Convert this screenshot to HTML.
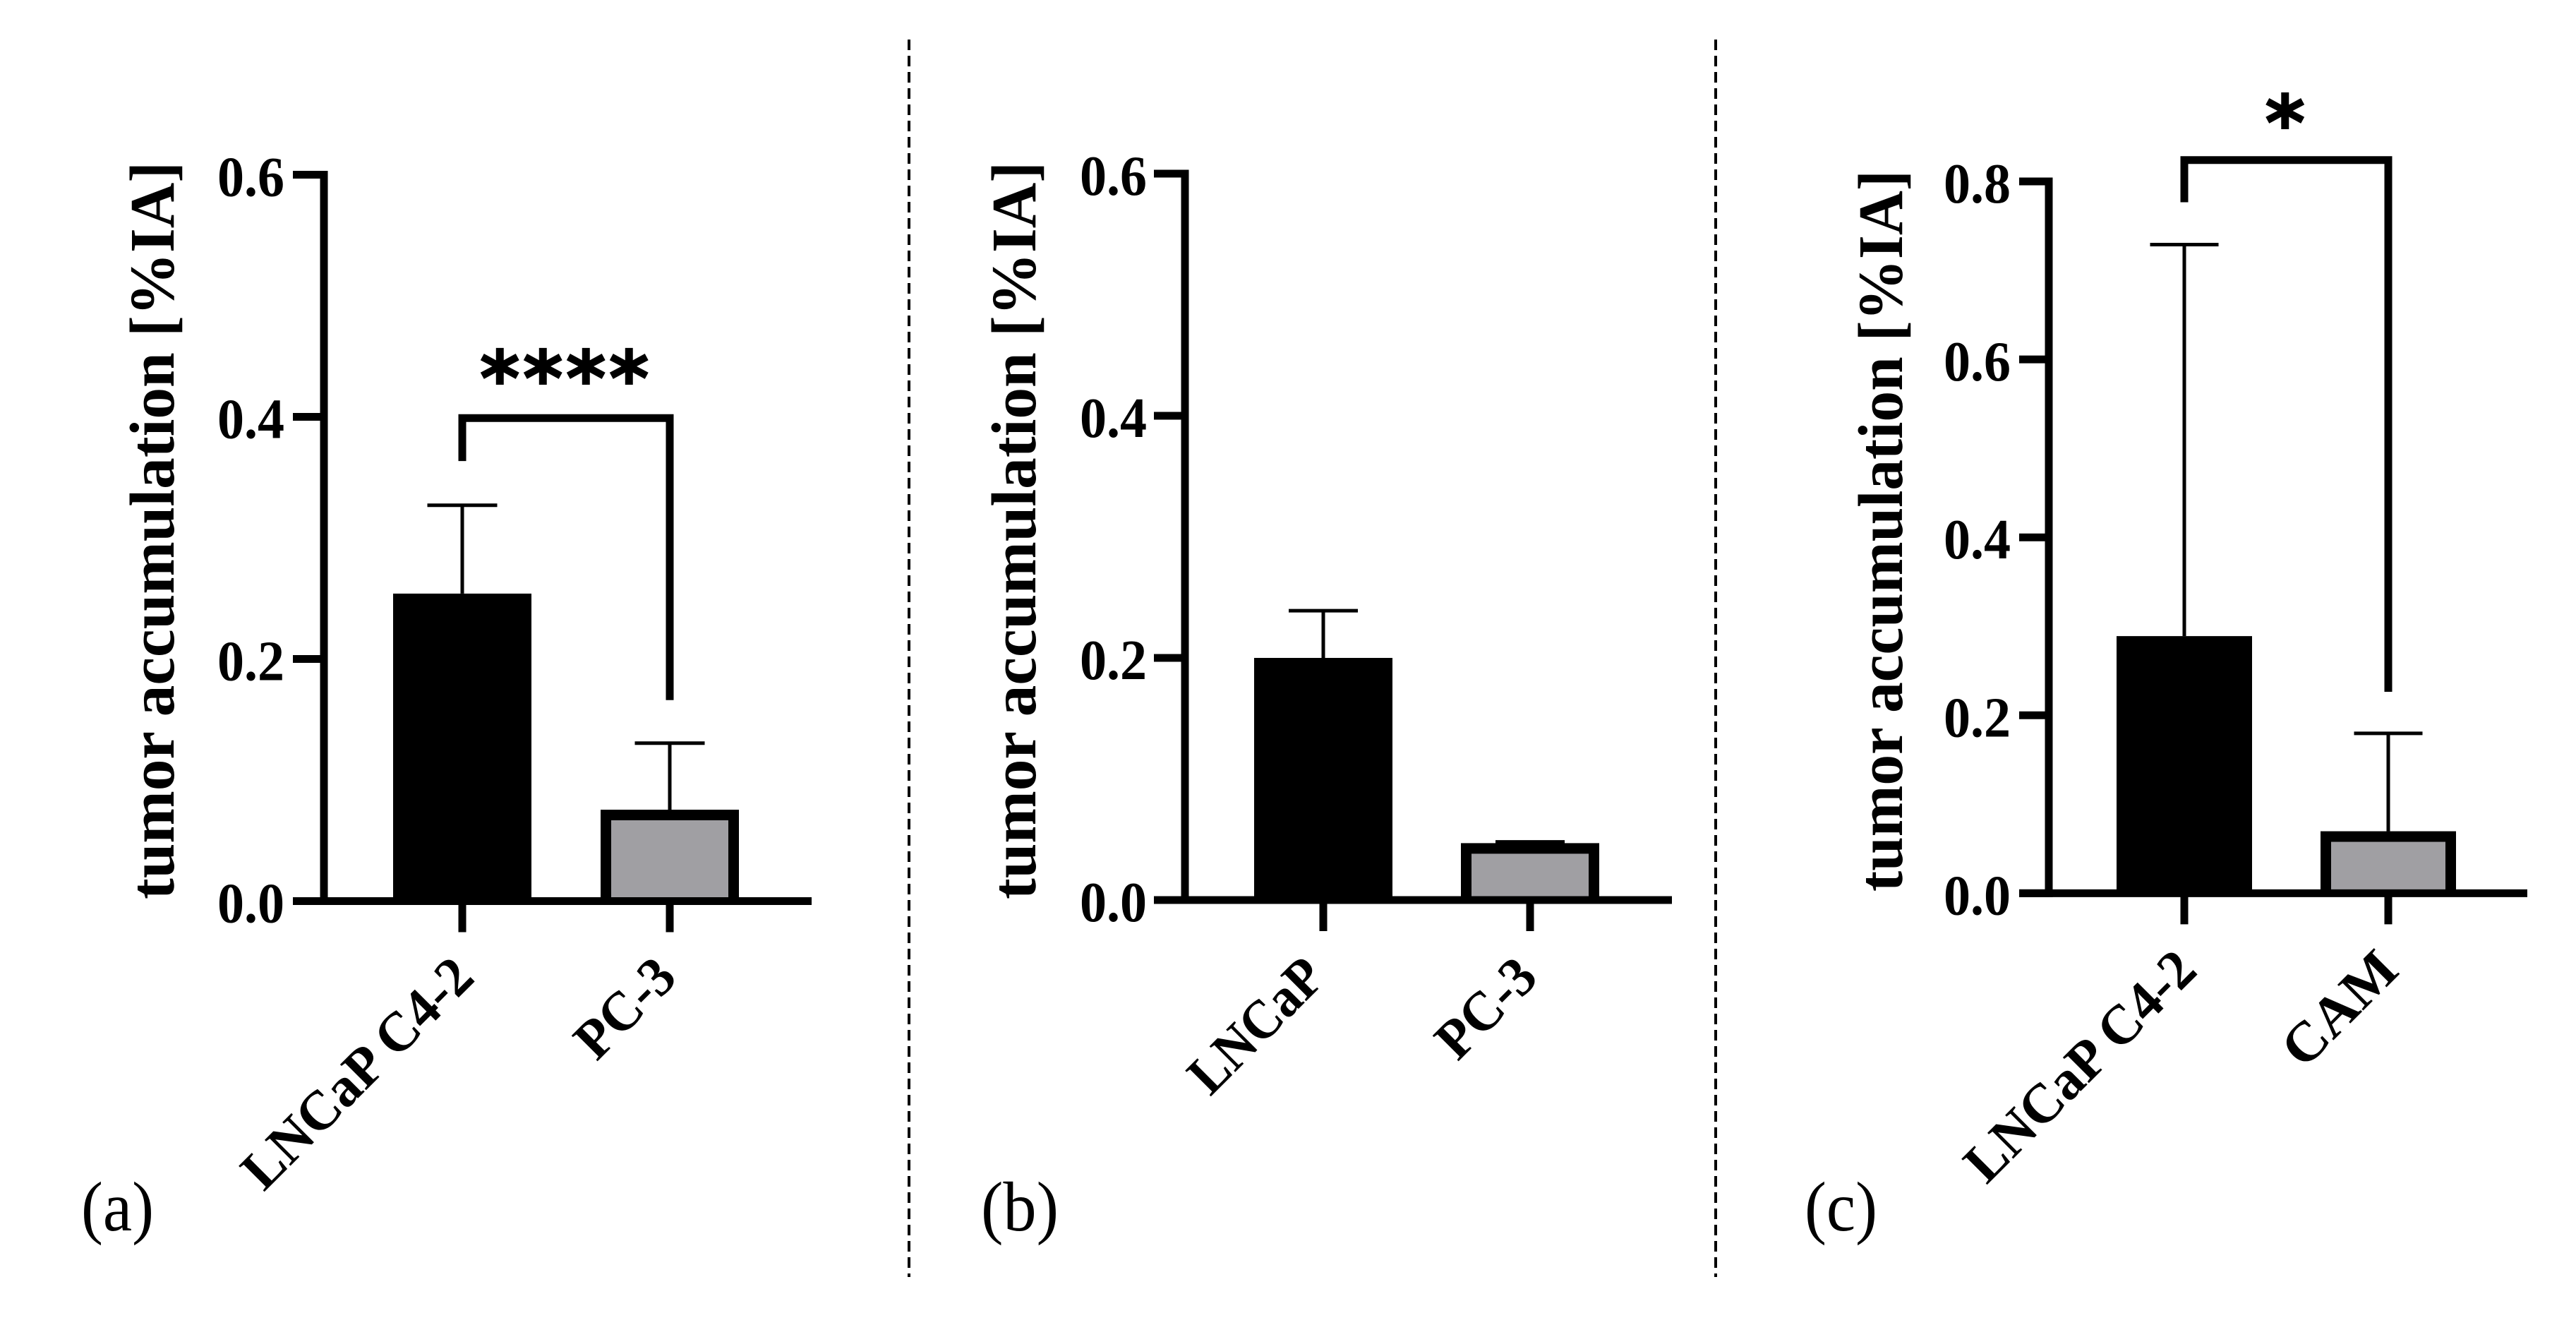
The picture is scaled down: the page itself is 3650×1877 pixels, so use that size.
<!DOCTYPE html>
<html lang="en">
<head>
<meta charset="utf-8">
<title>Tumor accumulation bar charts</title>
<style>
  html, body { margin: 0; padding: 0; background: #fff; }
  svg { display: block; }
  text { font-family: "Liberation Serif", serif; fill: #000; }
</style>
</head>
<body>
<svg id="figure" xmlns="http://www.w3.org/2000/svg" width="3650" height="1877" viewBox="0 0 3650 1877">
  <rect x="0" y="0" width="3650" height="1877" fill="#fff"/>
  <line x1="1288" y1="56" x2="1288" y2="1809" stroke="#000" stroke-width="4" stroke-dasharray="15 8"/>
  <line x1="2431" y1="56" x2="2431" y2="1809" stroke="#000" stroke-width="4" stroke-dasharray="15 8"/>
</svg>
<script>
// Panel (a)
const categoriesA = ["LNCaP C4-2", "PC-3"];
const meansA = [0.254, 0.0755];
const errorsA = [0.073, 0.055];
const ticksA = [0.0, 0.2, 0.4, 0.6];
const tickLabelsA = ["0.0", "0.2", "0.4", "0.6"];
const bracketA = [0.3635, 0.399, 0.166];

// Panel (b)
const categoriesB = ["LNCaP", "PC-3"];
const meansB = [0.2, 0.047];
const errorsB = [0.039, 0.001];
const ticksB = [0.0, 0.2, 0.4, 0.6];
const tickLabelsB = ["0.0", "0.2", "0.4", "0.6"];

// Panel (c)
const categoriesC = ["LNCaP C4-2", "CAM"];
const meansC = [0.289, 0.0697];
const errorsC = [0.44, 0.11];
const ticksC = [0.0, 0.2, 0.4, 0.6, 0.8];
const tickLabelsC = ["0.0", "0.2", "0.4", "0.6", "0.8"];
const bracketC = [0.7766, 0.824, 0.2264];

const svgNS = "http://www.w3.org/2000/svg";
const figure = document.getElementById("figure");

function makeEl(tag, attrs, parent) {
  const el = document.createElementNS(svgNS, tag);
  for (const k in attrs) el.setAttribute(k, attrs[k]);
  parent.appendChild(el);
  return el;
}

function drawPanel(p) {
  const g = makeEl("g", {}, figure);
  
  

  const yMax = p.ticks[p.ticks.length - 1];
  const yScale = v => p.y0 - (v / yMax) * (p.y0 - p.yTop);
  const xScale = i => p.barCenters[i];
  const AXW = 11;

  // bars
  p.categories.forEach((cat, i) => {
    const cx = xScale(i);
    const top = yScale(p.means[i]);
    const errTop = yScale(p.means[i] + p.errors[i]);

    const stem = makeEl("line", { x1: cx, x2: cx, y1: top, y2: errTop, stroke: "#000", "stroke-width": 5 }, g);
    
    

    const cap = makeEl("line", { x1: cx - p.capW / 2, x2: cx + p.capW / 2, y1: errTop, y2: errTop, stroke: "#000", "stroke-width": 5 }, g);
    
    

    const bar = makeEl("rect", { x: cx - p.barW / 2, y: top, width: p.barW, height: p.y0 - top, fill: "#000" }, g);
    
    

    if (i === 1) {
      const inner = makeEl("rect", { x: cx - p.barW / 2 + 15, y: top + 15, width: p.barW - 30, height: Math.max(0, p.y0 - top - 20), fill: "#a09fa3" }, g);
      
      
    }

    const tick = makeEl("line", { x1: cx, x2: cx, y1: p.y0, y2: p.y0 + 44, stroke: "#000", "stroke-width": AXW }, g);
    
    

    const lx = cx + p.labelOffset[i];
    const ly = p.labelY;
    const label = makeEl("text", { x: lx, y: ly, "text-anchor": "end", "font-size": 79, "font-weight": "bold",
      textLength: p.labelLen[i], lengthAdjust: "spacingAndGlyphs", transform: "rotate(-45 " + lx + " " + ly + ")" }, g);
    label.textContent = cat;
    
    
  });

  // axes
  const yAxis = makeEl("line", { x1: p.xAxis, x2: p.xAxis, y1: p.yTop - AXW / 2, y2: p.y0 + AXW / 2, stroke: "#000", "stroke-width": AXW }, g);
  
  

  const xAxis = makeEl("line", { x1: p.tickLeft, x2: p.xRight, y1: p.y0, y2: p.y0, stroke: "#000", "stroke-width": AXW }, g);
  
  

  p.ticks.forEach((t, i) => {
    const y = yScale(t);
    const tick = makeEl("line", { x1: p.tickLeft, x2: p.xAxis, y1: y, y2: y, stroke: "#000", "stroke-width": AXW }, g);
    
    

    const label = makeEl("text", { x: p.tickTextRight, y: y + 30, "text-anchor": "end", "font-size": 80, "font-weight": "bold",
      textLength: 95, lengthAdjust: "spacingAndGlyphs" }, g);
    label.textContent = p.tickLabels[i];
    
    
  });

  // y title
  const title = makeEl("text", { x: p.titleX, y: p.titleBottom, "font-size": 90, "font-weight": "bold",
    textLength: p.titleLen, lengthAdjust: "spacingAndGlyphs", transform: "rotate(-90 " + p.titleX + " " + p.titleBottom + ")" }, g);
  title.textContent = "tumor accumulation [%IA]";
  
  

  // significance bracket
  if (p.bracket) {
    const bx0 = xScale(0), bx1 = xScale(1);
    const d = "M" + bx0 + " " + yScale(p.bracket[0]) + " V" + yScale(p.bracket[1]) + " H" + bx1 + " V" + yScale(p.bracket[2]);
    const br = makeEl("path", { d: d, fill: "none", stroke: "#000", "stroke-width": AXW }, g);
    
    

    const stars = makeEl("text", { x: p.starX, y: p.starY, "text-anchor": "middle", "font-size": 108, "font-weight": "bold",
      "letter-spacing": 4.5, stroke: "#000", "stroke-width": 2, style: 'font-family:"DejaVu Sans",sans-serif' }, g);
    stars.textContent = p.stars;
    
    
  }

  // panel letter
  const letter = makeEl("text", { x: p.letterX, y: 1743, "font-size": 100, textLength: p.letterLen, lengthAdjust: "spacingAndGlyphs" }, g);
  letter.textContent = p.letter;
  
  
}

drawPanel({
  id: "panel-a", categories: categoriesA, means: meansA, errors: errorsA, ticks: ticksA, tickLabels: tickLabelsA,
  bracket: bracketA, stars: "****", starX: 802, starY: 574,
  y0: 1276.5, yTop: 247.5, xAxis: 459, tickLeft: 415, xRight: 1150, tickTextRight: 403,
  barCenters: [655, 949], barW: 196, capW: 99,
  labelOffset: [20, 13], labelY: 1388, labelLen: [426, 165],
  titleX: 246, titleBottom: 1274, titleLen: 1045, letter: "(a)", letterX: 115, letterLen: 103
});
drawPanel({
  id: "panel-b", categories: categoriesB, means: meansB, errors: errorsB, ticks: ticksB, tickLabels: tickLabelsB,
  y0: 1275, yTop: 246, xAxis: 1679, tickLeft: 1635, xRight: 2369, tickTextRight: 1625,
  barCenters: [1875, 2168], barW: 196, capW: 98,
  labelOffset: [6, 14], labelY: 1388, labelLen: [235, 165],
  titleX: 1467, titleBottom: 1274, titleLen: 1045, letter: "(b)", letterX: 1390, letterLen: 110
});
drawPanel({
  id: "panel-c", categories: categoriesC, means: meansC, errors: errorsC, ticks: ticksC, tickLabels: tickLabelsC,
  bracket: bracketC, stars: "*", starX: 3240, starY: 212,
  y0: 1265.4, yTop: 257, xAxis: 2903, tickLeft: 2861, xRight: 3581, tickTextRight: 2849,
  barCenters: [3095, 3384], barW: 192, capW: 97,
  labelOffset: [21, 18], labelY: 1378, labelLen: [426, 195],
  titleX: 2695, titleBottom: 1263, titleLen: 1022, letter: "(c)", letterX: 2557, letterLen: 103
});
</script>
</body>
</html>
